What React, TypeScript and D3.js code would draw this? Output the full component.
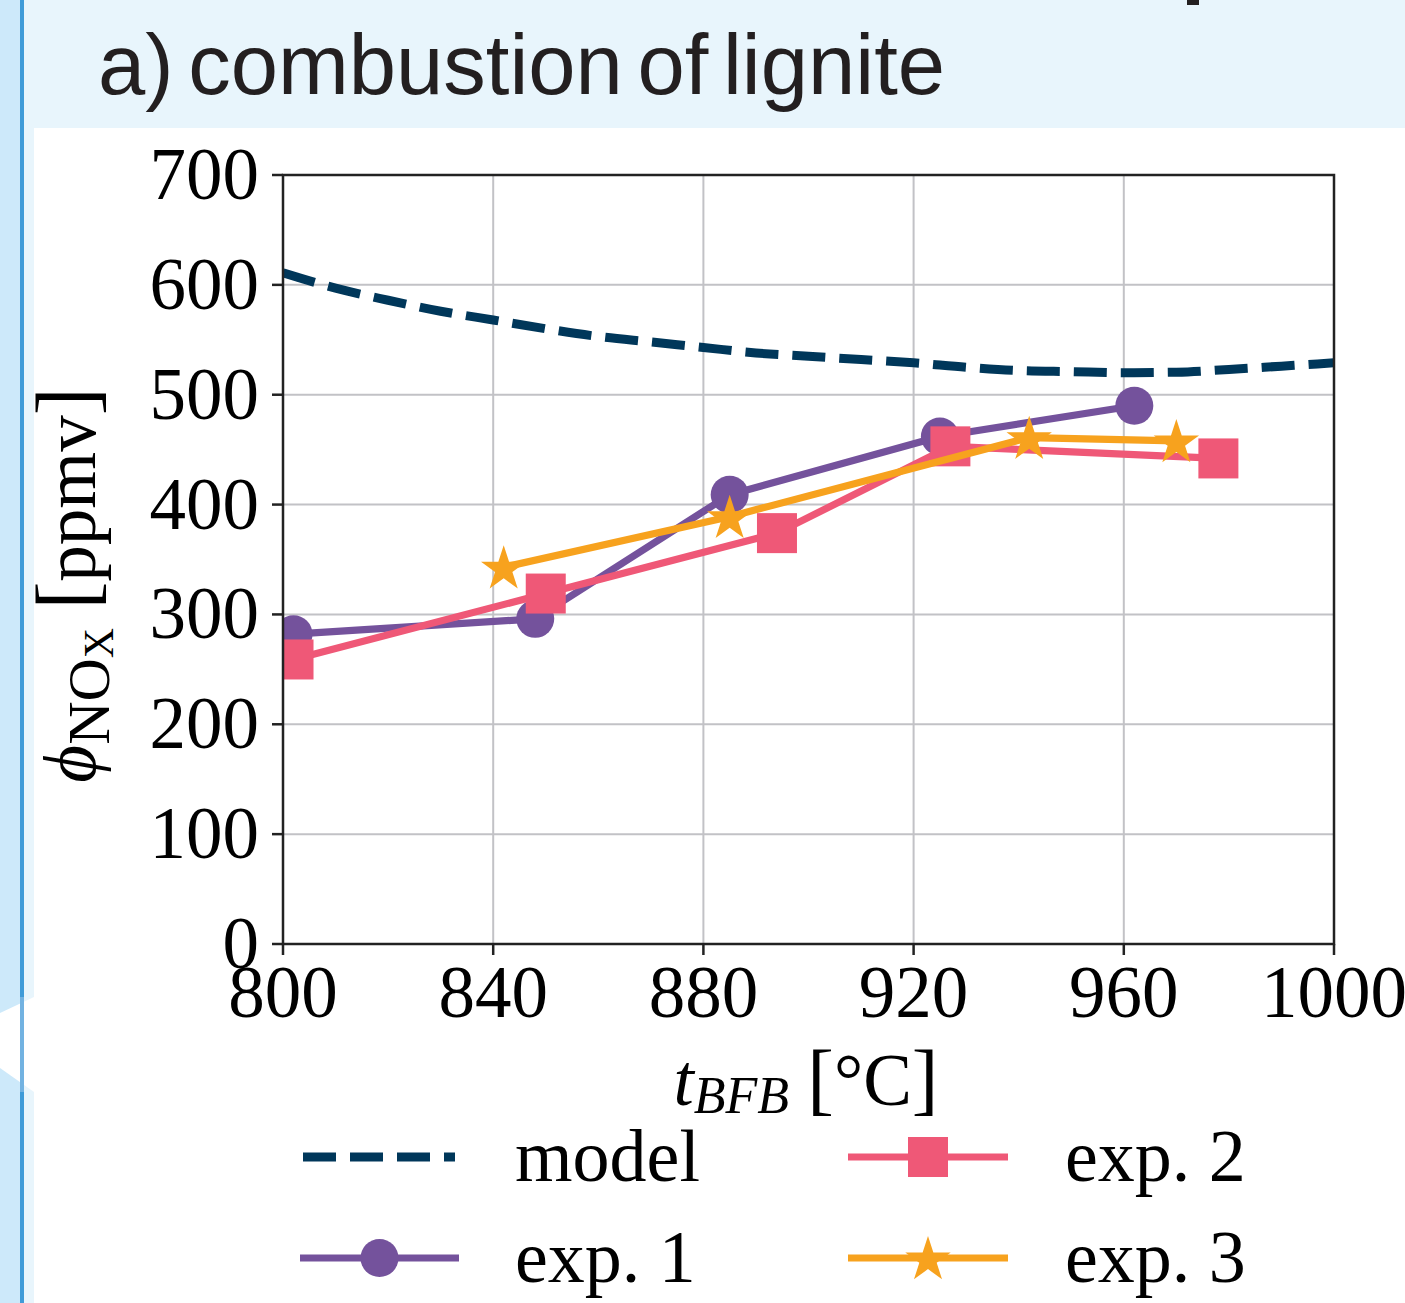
import React from "react";
import * as d3 from "d3";

// ---------- data ----------
const xTicks = [800, 840, 880, 920, 960, 1000];
const yTicks = [0, 100, 200, 300, 400, 500, 600, 700];

const modelT = [800, 810, 820, 830, 840, 850, 860, 870, 880, 890, 900, 910, 920, 930, 940, 950, 960, 970, 980, 990, 1000];
const modelPhi = [611, 597, 586, 576, 568, 560, 553, 548, 543, 538, 535, 532, 529, 525, 522, 521, 520, 520.5, 523, 526, 529];

const exp1T = [802, 848, 885, 925, 962];
const exp1Phi = [282, 296, 409, 462, 490];

const exp2T = [802, 850, 894, 927, 978];
const exp2Phi = [259, 319, 374, 453, 442];

const exp3T = [842, 885, 942, 970];
const exp3Phi = [343, 389, 461, 458];

const legendLabels = ["model", "exp. 1", "exp. 2", "exp. 3"];

const COLORS = {
  model: "#00375a",
  exp1: "#74529c",
  exp2: "#ef5877",
  exp3: "#f7a21e",
};

// ---------- layout ----------
const W = 1405;
const H = 1303;
const L = 283, R = 1334, T = 175, B = 944;

export default function App() {
  const x = d3.scaleLinear().domain([800, 1000]).range([L, R]);
  const y = d3.scaleLinear().domain([0, 700]).range([B, T]);

  const line = d3
    .line<[number, number]>()
    .x((d) => x(d[0]))
    .y((d) => y(d[1]));
  const smooth = d3
    .line<[number, number]>()
    .x((d) => x(d[0]))
    .y((d) => y(d[1]))
    .curve(d3.curveMonotoneX);

  const zip = (a: number[], b: number[]) => a.map((v, i) => [v, b[i]] as [number, number]);
  const modelPts = zip(modelT, modelPhi);
  const e1 = zip(exp1T, exp1Phi);
  const e2 = zip(exp2T, exp2Phi);
  const e3 = zip(exp3T, exp3Phi);

  const star = d3.symbol().type(d3.symbolStar).size(640)();
  const serif = "'Liberation Serif', 'Times New Roman', serif";
  const sans = "'Liberation Sans', Arial, Helvetica, sans-serif";

  const LW = 7.2;
  const dash = "33 14";

  const legendRows = [1157, 1258];
  const legCols = [
    { x0: 300, x1: 459, tx: 515 },
    { x0: 848, x1: 1008, tx: 1065 },
  ];

  const markerCircle = (cx: number, cy: number, key?: any) => (
    <circle key={key} cx={cx} cy={cy} r={19} fill={COLORS.exp1} />
  );
  const markerSquare = (cx: number, cy: number, key?: any) => (
    <rect key={key} x={cx - 20} y={cy - 20} width={40} height={40} fill={COLORS.exp2} />
  );
  const markerStar = (cx: number, cy: number, key?: any) => (
    <path key={key} d={star as string} transform={`translate(${cx},${cy + 2})`} fill={COLORS.exp3} />
  );

  return (
    <svg
      width={W}
      height={H}
      viewBox={`0 0 ${W} ${H}`}
      style={{ position: "absolute", left: 0, top: 0, background: "#ffffff" }}
    >
      {/* background decorations */}
      <rect x={0} y={0} width={W} height={128} fill="#e8f5fc" />
      <rect x={0} y={0} width={34} height={H} fill="#e8f5fc" />
      <rect x={0} y={0} width={21} height={H} fill="#cde9fa" />
      <polygon points="0,1013 34,997 34,1092 0,1068" fill="#ffffff" />
      <rect x={20} y={0} width={4} height={H} fill="#3f9bd8" />
      <rect x={20} y={997} width={4} height={95} fill="#7fb8e4" opacity={0.8} />
      <rect x={1187} y={0} width={12} height={5} fill="#231f20" />

      {/* title */}
      <text
        x={98}
        y={94}
        fontFamily={sans}
        fontSize={85}
        fill="#231f20"
        letterSpacing={0}
        wordSpacing={-9}
      >
        a) combustion of lignite
      </text>

      <defs>
        <clipPath id="plotclip">
          <rect x={L} y={T} width={R - L} height={B - T} />
        </clipPath>
      </defs>

      {/* grid */}
      <g stroke="#c2c2c6" strokeWidth={2}>
        {xTicks.map((t) => (
          <line key={"gx" + t} x1={x(t)} x2={x(t)} y1={T} y2={B} />
        ))}
        {yTicks.map((t) => (
          <line key={"gy" + t} x1={L} x2={R} y1={y(t)} y2={y(t)} />
        ))}
      </g>

      {/* data */}
      <g clipPath="url(#plotclip)">
        <path d={smooth(modelPts) as string} fill="none" stroke={COLORS.model} strokeWidth={9} strokeDasharray={dash} />
        <path d={line(e1) as string} fill="none" stroke={COLORS.exp1} strokeWidth={LW} strokeLinejoin="round" />
        {e1.map((d, i) => markerCircle(x(d[0]), y(d[1]), "c" + i))}
        <path d={line(e2) as string} fill="none" stroke={COLORS.exp2} strokeWidth={LW} strokeLinejoin="round" />
        {e2.map((d, i) => markerSquare(x(d[0]), y(d[1]), "s" + i))}
        <path d={line(e3) as string} fill="none" stroke={COLORS.exp3} strokeWidth={LW} strokeLinejoin="round" />
        {e3.map((d, i) => markerStar(x(d[0]), y(d[1]), "st" + i))}
      </g>

      {/* axes frame */}
      <rect x={L} y={T} width={R - L} height={B - T} fill="none" stroke="#222" strokeWidth={2.5} />
      {/* ticks */}
      <g stroke="#222" strokeWidth={2.5}>
        {xTicks.map((t) => (
          <line key={"tx" + t} x1={x(t)} x2={x(t)} y1={B} y2={B + 11} />
        ))}
        {yTicks.map((t) => (
          <line key={"ty" + t} x1={L - 11} x2={L} y1={y(t)} y2={y(t)} />
        ))}
      </g>
      <g fontFamily={serif} fontSize={73} fill="#000">
        {xTicks.map((t) => (
          <text key={"lx" + t} x={x(t)} y={1017} textAnchor="middle">
            {t}
          </text>
        ))}
        {yTicks.map((t) => (
          <text key={"ly" + t} x={259} y={y(t) + 24} textAnchor="end">
            {t}
          </text>
        ))}
      </g>

      {/* x axis label */}
      <text x={806} y={1105} textAnchor="middle" fontFamily={serif} fontSize={73} fill="#000">
        <tspan fontStyle="italic">t</tspan>
        <tspan fontStyle="italic" fontSize={52} dy={8}>BFB</tspan>
        <tspan dy={-8} fontSize={73}> </tspan>
        <tspan fontSize={80}>[</tspan>
        <tspan>°C</tspan>
        <tspan fontSize={80}>]</tspan>
      </text>

      {/* y axis label */}
      <text
        transform={`translate(95,585) rotate(-90)`}
        textAnchor="middle"
        fontFamily={serif}
        fontSize={73}
        fill="#000"
      >
        <tspan fontStyle="italic">ϕ</tspan>
        <tspan fontSize={60} dy={14}>NO</tspan>
        <tspan fontSize={42} dy={4}>X</tspan>
        <tspan dy={-18}> </tspan>
        <tspan fontSize={84}>[</tspan>
        <tspan>ppmv</tspan>
        <tspan fontSize={84}>]</tspan>
      </text>

      {/* legend */}
      <g>
        <line x1={303} x2={455} y1={legendRows[0]} y2={legendRows[0]} stroke={COLORS.model} strokeWidth={9} strokeDasharray={dash} />
        <line x1={legCols[0].x0} x2={legCols[0].x1} y1={legendRows[1]} y2={legendRows[1]} stroke={COLORS.exp1} strokeWidth={LW} />
        {markerCircle((legCols[0].x0 + legCols[0].x1) / 2, legendRows[1])}
        <line x1={legCols[1].x0} x2={legCols[1].x1} y1={legendRows[0]} y2={legendRows[0]} stroke={COLORS.exp2} strokeWidth={LW} />
        {markerSquare((legCols[1].x0 + legCols[1].x1) / 2, legendRows[0])}
        <line x1={legCols[1].x0} x2={legCols[1].x1} y1={legendRows[1]} y2={legendRows[1]} stroke={COLORS.exp3} strokeWidth={LW} />
        {markerStar((legCols[1].x0 + legCols[1].x1) / 2, legendRows[1])}

        <g fontFamily={serif} fontSize={74} fill="#000">
          <text x={legCols[0].tx} y={legendRows[0] + 24}>{legendLabels[0]}</text>
          <text x={legCols[0].tx} y={legendRows[1] + 24}>{legendLabels[1]}</text>
          <text x={legCols[1].tx} y={legendRows[0] + 24}>{legendLabels[2]}</text>
          <text x={legCols[1].tx} y={legendRows[1] + 24}>{legendLabels[3]}</text>
        </g>
      </g>
    </svg>
  );
}
